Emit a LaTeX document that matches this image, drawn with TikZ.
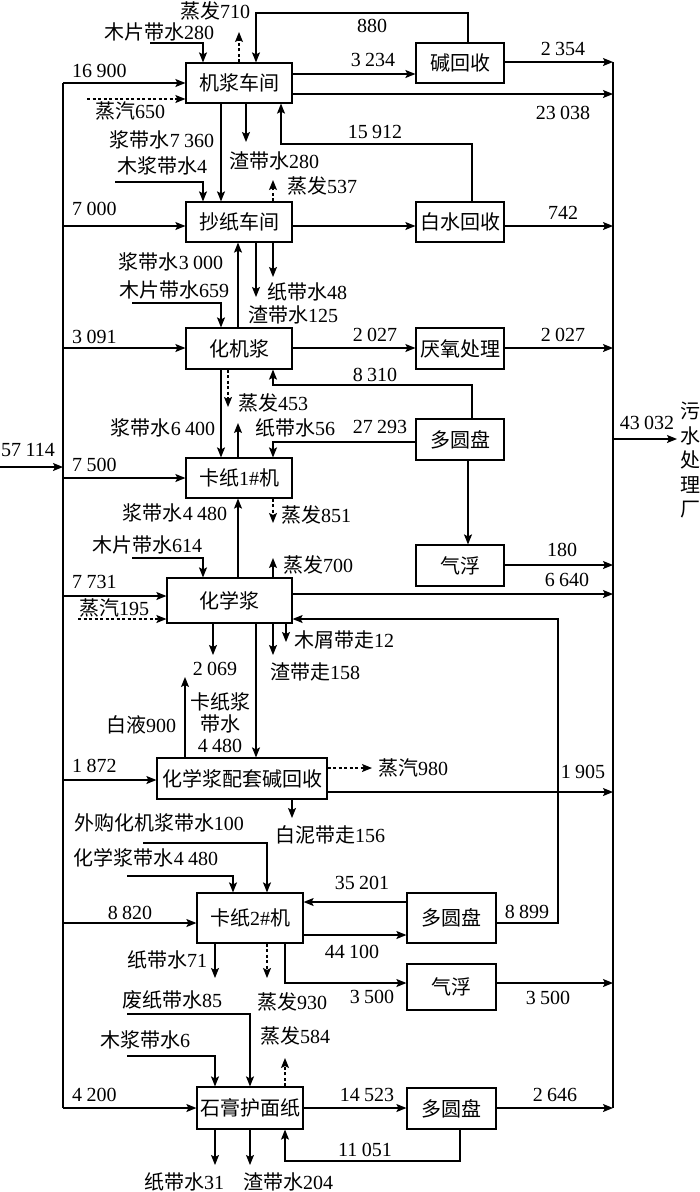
\documentclass[tikz,border=0pt]{standalone}
\usepackage{fontspec}
\setmainfont{Liberation Serif}
\newfontfamily\cjk{Noto Sans CJK SC}
\newcommand\zh[1]{{\cjk #1}}
\newcommand\gs{\kern0.22em}
\usetikzlibrary{arrows.meta}
\begin{document}
\begin{tikzpicture}[x=1pt,y=-1pt,
  box/.style={draw,line width=1.2pt,inner sep=0pt,font=\fontsize{20}{24}\selectfont},
  lab/.style={inner sep=0pt,font=\fontsize{20}{24}\selectfont},
  labw/.style={lab,anchor=west},
  ln/.style={line width=1.2pt},
  arr/.style={ln,-{Stealth[length=10pt,width=8pt,inset=2pt]}},
  dsh/.style={arr,dash pattern=on 3pt off 2.5pt}]
\useasboundingbox (0,0) rectangle (700,1192);
% boxes
\node[box,minimum width=106pt,minimum height=40pt] (jj) at (239,83) {\zh{机浆车间}};
\node[box,minimum width=88pt,minimum height=40pt] (jhs) at (460,63) {\zh{碱回收}};
\node[box,minimum width=106pt,minimum height=40pt] (cz) at (239,222) {\zh{抄纸车间}};
\node[box,minimum width=88pt,minimum height=40pt] (bshs) at (460,222) {\zh{白水回收}};
\node[box,minimum width=106pt,minimum height=41pt] (hjj) at (239,348.5) {\zh{化机浆}};
\node[box,minimum width=88pt,minimum height=41pt] (yy) at (460,348.5) {\zh{厌氧处理}};
\node[box,minimum width=88pt,minimum height=41pt] (dyp1) at (460,439.5) {\zh{多圆盘}};
\node[box,minimum width=106pt,minimum height=40pt] (kz1) at (239,478) {\zh{卡纸}1\#\zh{机}};
\node[box,minimum width=88pt,minimum height=41pt] (qf1) at (460,565.5) {\zh{气浮}};
\node[box,minimum width=125pt,minimum height=45pt] (hxj) at (229.5,600.5) {\zh{化学浆}};
\node[box,minimum width=170pt,minimum height=41pt] (hsp) at (242,778.5) {\zh{化学浆配套碱回收}};
\node[box,minimum width=106pt,minimum height=50pt] (kz2) at (250,918) {\zh{卡纸}2\#\zh{机}};
\node[box,minimum width=89pt,minimum height=50pt] (dyp2) at (451.5,918) {\zh{多圆盘}};
\node[box,minimum width=89pt,minimum height=46pt] (qf2) at (451.5,987) {\zh{气浮}};
\node[box,minimum width=106pt,minimum height=42pt] (sg) at (250,1108) {\zh{石膏护面纸}};
\node[box,minimum width=89pt,minimum height=41pt] (dyp3) at (451.5,1108.5) {\zh{多圆盘}};
% buses
\draw[ln] (63,83) -- (63,1108);
\draw[ln] (613,62) -- (613,1108);
% top section
\draw[arr] (150,43) -| (jj.north -| 203,0);
\draw[dsh] (jj.north -| 239,0) -- (239,32);
\draw[arr] (jhs.north -| 468,0) |- (256,13) -- (jj.north -| 256,0);
\draw[arr] (jj.east |- 0,74) -- (jhs.west |- 0,74);
\draw[arr] (jhs.east |- 0,62) -- (613,62);
\draw[arr] (jj.east |- 0,94) -- (613,94);
\draw[arr] (63,83) -- (jj.west);
\draw[dsh] (87,99) -- (jj.west |- 0,99);
\draw[arr] (jj.south -| 221,0) -- (cz.north -| 221,0);
\draw[arr] (jj.south -| 246,0) -- (246,142);
\draw[arr] (115,182) -| (cz.north -| 203,0);
\draw[dsh] (cz.north -| 273,0) -- (273,180);
\draw[arr] (bshs.north -| 472,0) |- (281,144) -- (jj.south -| 281,0);
\draw[arr] (63,226) -- (cz.west |- 0,226);
\draw[arr] (cz.east |- 0,226) -- (bshs.west |- 0,226);
\draw[arr] (bshs.east |- 0,226) -- (613,226);
% middle
\draw[arr] (hjj.north -| 238,0) -- (cz.south -| 238,0);
\draw[arr] (cz.south -| 256,0) -- (256,297);
\draw[arr] (cz.south -| 273,0) -- (273,277);
\draw[arr] (132,303) -| (hjj.north -| 221,0);
\draw[arr] (63,348) -- (hjj.west |- 0,348);
\draw[arr] (hjj.east |- 0,348) -- (yy.west |- 0,348);
\draw[arr] (yy.east |- 0,348) -- (613,348);
\draw[arr] (dyp1.north -| 472,0) |- (273,385) -- (hjj.south -| 273,0);
\draw[arr] (hjj.south -| 221,0) -- (kz1.north -| 221,0);
\draw[dsh] (hjj.south -| 228,0) -- (228,407);
\draw[arr] (kz1.north -| 238,0) -- (238,423);
\draw[arr] (dyp1.west |- 0,442) -| (kz1.north -| 273,0);
\draw[arr] (0,467) -- (63,467);
\draw[arr] (63,478) -- (kz1.west);
\draw[arr] (613,439) -- (677,439);
\draw[arr] (dyp1.south -| 468,0) -- (qf1.north -| 468,0);
\draw[arr] (qf1.east |- 0,565) -- (613,565);
% chemical pulp
\draw[arr] (hxj.north -| 238,0) -- (kz1.south -| 238,0);
\draw[dsh] (kz1.south -| 273,0) -- (273,523);
\draw[arr] (132,558) -| (hxj.north -| 203,0);
\draw[arr] (hxj.north -| 273,0) -- (273,558);
\draw[arr] (63,596) -- (hxj.west |- 0,596);
\draw[dsh] (78,619) -- (hxj.west |- 0,619);
\draw[arr] (hxj.east |- 0,594) -- (613,594);
\draw[arr] (dyp2.east |- 0,923) -| (558,619) -- (hxj.east |- 0,619);
\draw[arr] (hxj.south -| 213,0) -- (213,655);
\draw[arr] (hxj.south -| 256,0) -- (hsp.north -| 256,0);
\draw[arr] (hxj.south -| 273,0) -- (273,655);
\draw[arr] (hxj.south -| 286,0) -- (286,642);
\draw[arr] (hsp.north -| 185,0) -- (185,677);
\draw[arr] (63,780) -- (hsp.west |- 0,780);
\draw[dsh] (hsp.east |- 0,768) -- (372,768);
\draw[arr] (hsp.east |- 0,792) -- (613,792);
\draw[arr] (hsp.south -| 292,0) -- (292,818);
% board machine 2
\draw[arr] (143,843) -| (kz2.north -| 267,0);
\draw[arr] (127,876) -| (kz2.north -| 233,0);
\draw[arr] (63,923) -- (kz2.west |- 0,923);
\draw[arr] (dyp2.west |- 0,902) -- (kz2.east |- 0,902);
\draw[arr] (kz2.east |- 0,935) -- (dyp2.west |- 0,935);
\draw[arr] (kz2.south -| 215,0) -- (215,978);
\draw[dsh] (kz2.south -| 267,0) -- (267,978);
\draw[arr] (kz2.south -| 285,0) |- (qf2.west |- 0,983);
\draw[arr] (qf2.east |- 0,983) -- (613,983);
% gypsum paper
\draw[arr] (127,1014) -| (sg.north -| 250,0);
\draw[arr] (127,1056) -| (sg.north -| 215,0);
\draw[dsh] (sg.north -| 285,0) -- (285,1058);
\draw[arr] (63,1108) -- (sg.west);
\draw[arr] (sg.east) -- (dyp3.west |- 0,1108);
\draw[arr] (dyp3.east |- 0,1108) -- (613,1108);
\draw[arr] (dyp3.south -| 460,0) |- (285,1161) -- (sg.south -| 285,0);
\draw[arr] (sg.south -| 215,0) -- (215,1165);
\draw[arr] (sg.south -| 250,0) -- (250,1165);
% labels
\node[lab] (t1) at (159,32) {\zh{木片带水}280};
\node[lab] (t2) at (215,11) {\zh{蒸发}710};
\node[lab] (t3) at (372,26) {880};
\node[lab] (t4) at (373,60) {3\gs234};
\node[lab] (t5) at (563,49) {2\gs354};
\node[lab] (t6) at (563,113) {23\gs038};
\node[labw] (t7) at (72,71) {16\gs900};
\node[lab] (t8) at (130,111) {\zh{蒸汽}650};
\node[lab] (t9) at (162,140) {\zh{浆带水}7\gs360};
\node[lab] (t10) at (274,161) {\zh{渣带水}280};
\node[lab] (t11) at (162,166) {\zh{木浆带水}4};
\node[lab] (t12) at (322,186) {\zh{蒸发}537};
\node[lab] (t13) at (375,132) {15\gs912};
\node[labw] (t14) at (72,209) {7\gs000};
\node[lab] (t15) at (563,213) {742};
\node[lab] (t16) at (171,262) {\zh{浆带水}3\gs000};
\node[lab] (t17) at (307,292) {\zh{纸带水}48};
\node[lab] (t18) at (293,315) {\zh{渣带水}125};
\node[lab] (t19) at (174,290) {\zh{木片带水}659};
\node[labw] (t20) at (72,337) {3\gs091};
\node[lab] (t21) at (375,335) {2\gs027};
\node[lab] (t22) at (563,335) {2\gs027};
\node[lab] (t23) at (375,375) {8\gs310};
\node[lab] (t24) at (163,428) {\zh{浆带水}6\gs400};
\node[lab] (t25) at (273,403) {\zh{蒸发}453};
\node[lab] (t26) at (295,428) {\zh{纸带水}56};
\node[lab] (t27) at (380,427) {27\gs293};
\node[lab] (t28) at (28,450) {57\gs114};
\node[labw] (t29) at (72,465) {7\gs500};
\node[lab] (t30) at (647,423) {43\gs032};
\node[lab,align=center,text width=20pt,font=\fontsize{20}{24.5}\selectfont] (t31) at (690,460) {\zh{污}\\\zh{水}\\\zh{处}\\\zh{理}\\\zh{厂}};
\node[lab] (t32) at (562,550) {180};
\node[lab] (t33) at (175,513) {\zh{浆带水}4\gs480};
\node[lab] (t34) at (316,515) {\zh{蒸发}851};
\node[lab] (t35) at (147,545) {\zh{木片带水}614};
\node[lab] (t36) at (318,565) {\zh{蒸发}700};
\node[labw] (t37) at (72,582) {7\gs731};
\node[lab] (t38) at (114,608) {\zh{蒸汽}195};
\node[lab] (t39) at (567,580) {6\gs640};
\node[lab] (t40) at (527,912) {8\gs899};
\node[lab] (t41) at (215,669) {2\gs069};
\node[lab,align=center,font=\fontsize{20}{21.5}\selectfont] (t42) at (220,723) {\zh{卡纸浆}\\\zh{带水}\\4\gs480};
\node[lab] (t43) at (315,672) {\zh{渣带走}158};
\node[lab] (t44) at (344,640) {\zh{木屑带走}12};
\node[lab] (t45) at (141,725) {\zh{白液}900};
\node[labw] (t46) at (72,766) {1\gs872};
\node[labw] (t47) at (378,768) {\zh{蒸汽}980};
\node[lab] (t48) at (583,772) {1\gs905};
\node[lab] (t49) at (330,835) {\zh{白泥带走}156};
\node[lab] (t50) at (159,823) {\zh{外购化机浆带水}100};
\node[lab] (t51) at (146,858) {\zh{化学浆带水}4\gs480};
\node[lab] (t52) at (130,913) {8\gs820};
\node[lab] (t53) at (362,883) {35\gs201};
\node[lab] (t54) at (352,952) {44\gs100};
\node[lab] (t55) at (167,960) {\zh{纸带水}71};
\node[lab] (t56) at (292,1002) {\zh{蒸发}930};
\node[lab] (t57) at (372,997) {3\gs500};
\node[lab] (t58) at (548,998) {3\gs500};
\node[lab] (t59) at (172,1000) {\zh{废纸带水}85};
\node[lab] (t60) at (145,1040) {\zh{木浆带水}6};
\node[lab] (t61) at (295,1036) {\zh{蒸发}584};
\node[labw] (t62) at (72,1095) {4\gs200};
\node[lab] (t63) at (367,1095) {14\gs523};
\node[lab] (t64) at (555,1095) {2\gs646};
\node[lab] (t65) at (365,1150) {11\gs051};
\node[lab] (t66) at (184,1182) {\zh{纸带水}31};
\node[lab] (t67) at (288,1182) {\zh{渣带水}204};
\end{tikzpicture}
\end{document}
